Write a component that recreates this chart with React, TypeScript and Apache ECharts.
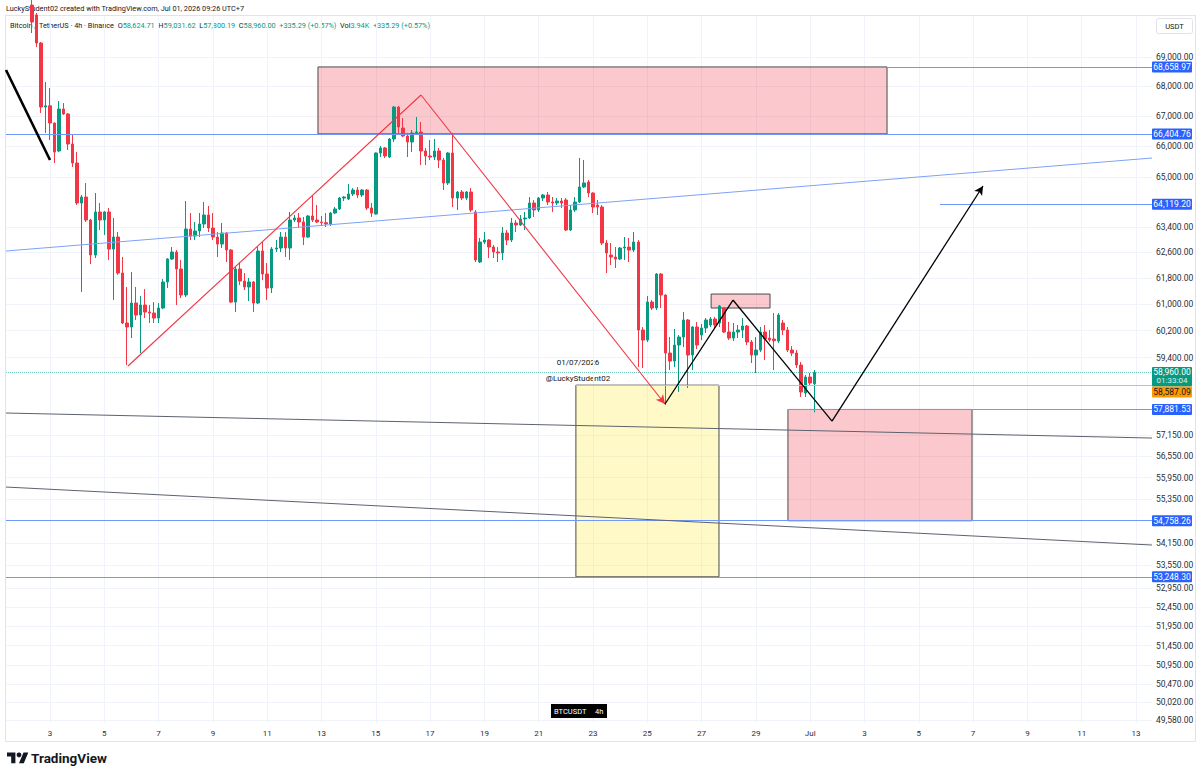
import { useEffect, useRef } from "react";
import * as echarts from "echarts";

// ---- 4h BTCUSDT bars, oldest first: [open, high, low, close] ----
const BARS_PER_DAY = 6;
const FIRST_BAR_DAY = 2; // 2 June
const FIRST_BAR_SLOT = 2; // third 4h bar of that day

const ohlc: number[][] = [
  [70810, 70990, 69830, 70215], [70460, 70530, 69345, 69482], [69482, 69520, 67100, 67300],
  [67300, 68145, 66435, 67340], [67340, 67942, 66203, 66766], [66766, 66780, 65448, 65808],
  [65841, 67502, 65800, 67234], [67234, 67435, 67034, 67067], [67067, 67100, 65874, 66071],
  [66071, 66368, 65318, 65448], [65448, 65808, 64092, 64156], [64156, 64412, 61372, 64348],
  [64348, 64800, 63552, 63615], [63615, 63650, 62235, 62514], [62514, 64477, 62421, 63870],
  [63870, 64156, 63298, 63615], [63615, 63900, 63140, 63870], [63870, 63997, 62359, 62700],
  [62700, 63679, 61127, 63077], [63077, 63235, 61900, 61955], [61955, 62452, 60400, 60431],
  [60431, 61525, 59178, 60310], [60310, 61986, 59980, 61035], [61035, 61525, 60521, 60672],
  [60672, 61249, 59533, 60975], [60975, 61462, 60581, 60762], [60762, 60975, 60431, 60732],
  [60732, 61066, 60431, 60581], [60581, 61035, 60431, 60884], [60884, 61771, 60850, 61679],
  [61679, 62420, 61494, 62390], [62390, 62764, 62359, 62608], [62608, 62670, 60975, 62079],
  [62079, 62359, 61188, 61280], [61280, 64220, 61219, 63330], [63330, 63837, 62983, 63109],
  [63109, 63552, 62983, 63267], [63267, 63837, 63077, 63488], [63488, 64188, 63361, 63774],
  [63774, 64060, 63235, 63361], [63361, 63837, 62983, 63077], [63077, 63235, 62452, 62857],
  [62857, 63520, 62733, 63204], [63204, 63235, 62297, 62670], [62670, 62700, 61035, 61066],
  [61066, 62141, 60762, 62079], [62079, 62297, 61586, 61709], [61709, 61955, 61433, 61525],
  [61525, 61802, 61096, 61679], [61679, 61709, 60762, 61035], [61035, 62764, 61000, 62639],
  [62639, 62920, 61740, 61925], [61925, 62266, 61127, 61494], [61494, 62764, 61341, 62702],
  [62702, 62983, 62608, 62733], [62733, 63235, 62608, 63077], [63077, 63235, 62452, 62733],
  [62733, 63870, 62359, 63615], [63615, 63774, 63552, 63679], [63679, 63837, 63361, 63552],
  [63552, 63710, 62826, 63077], [63077, 63774, 63046, 63742], [63742, 64380, 63552, 63615],
  [63615, 64092, 63520, 63552], [63552, 63742, 63425, 63530], [63530, 63837, 63393, 63488],
  [63488, 63870, 63425, 63837], [63837, 64028, 63800, 63965], [63965, 64348, 63933, 64316],
  [64316, 64380, 64220, 64348], [64284, 64768, 64252, 64445], [64445, 64637, 64380, 64573],
  [64573, 64670, 64316, 64412], [64412, 64600, 64348, 64573], [64573, 64600, 63933, 63997],
  [63997, 64156, 63710, 63837], [63805, 65790, 63790, 65776], [65776, 66005, 65645, 65940],
  [65940, 65972, 65612, 65677], [65645, 66270, 65612, 66236], [66236, 67330, 66136, 67300],
  [67300, 67330, 66435, 66633], [66600, 66932, 66302, 66335], [66335, 66435, 65645, 66137],
  [66137, 66534, 65808, 66435], [66435, 66966, 66368, 66468], [66468, 66800, 65383, 65841],
  [65841, 65940, 65383, 65677], [65677, 66203, 65546, 65645], [65645, 66236, 65546, 65841],
  [65841, 65940, 65285, 65546], [65546, 65612, 64573, 64800], [64800, 65808, 64735, 65776],
  [65776, 66435, 64028, 64316], [64316, 64540, 63933, 64509], [64509, 64573, 64252, 64316],
  [64316, 64540, 64252, 64509], [64509, 64637, 63870, 63933], [63870, 63933, 62297, 62359],
  [62297, 63046, 62266, 62920], [62920, 63235, 62857, 62983], [62983, 63010, 62421, 62764],
  [62764, 62826, 62421, 62608], [62608, 62764, 62297, 62580], [62580, 63393, 62359, 63204],
  [63204, 63298, 62826, 62983], [62983, 63679, 62920, 63520], [63520, 63615, 63235, 63456],
  [63456, 63774, 63425, 63647], [63647, 63870, 63298, 63679], [63679, 64348, 63647, 64156],
  [64156, 64252, 63710, 63933], [63933, 64348, 63870, 64316], [64316, 64445, 64220, 64412],
  [64412, 64509, 64092, 64188], [64188, 64348, 63870, 64156], [64156, 64316, 64092, 64220],
  [64220, 64316, 63997, 64156], [64252, 64316, 63267, 63298], [63298, 64092, 63267, 63933],
  [63933, 64348, 63870, 64188], [64188, 65612, 64156, 64670], [64670, 65546, 64637, 64800],
  [64832, 64896, 64348, 64477], [64477, 64500, 63837, 64028], [64092, 64252, 63774, 64028],
  [64028, 64092, 62826, 62889], [62889, 62983, 61955, 62577], [62514, 62889, 62204, 62452],
  [62452, 62764, 62110, 62390], [62390, 62764, 62359, 62733], [62733, 63077, 62359, 62764],
  [62764, 63046, 62297, 62670], [62670, 63235, 62608, 62920], [62920, 62983, 59120, 60220],
  [60220, 60310, 59090, 59920], [59920, 61249, 59860, 61066], [61066, 61127, 60823, 60884],
  [60884, 61955, 60823, 61925], [61925, 61955, 60884, 61280], [61280, 61300, 58010, 59533],
  [59533, 60010, 59031, 59296], [59296, 60250, 59120, 59771], [59771, 60070, 58387, 60010],
  [60010, 60762, 59711, 60521], [60521, 60550, 58503, 59474], [59474, 60340, 59031, 60310],
  [60310, 60461, 59650, 59771], [60070, 60400, 59920, 60280], [60280, 60581, 60130, 60521],
  [60370, 60611, 60310, 60551], [60551, 60611, 60250, 60370], [60431, 60975, 60310, 60945],
  [60884, 60900, 60130, 60160], [60160, 60461, 59920, 59980], [59980, 60431, 59890, 60160],
  [60160, 60370, 59980, 60220], [60220, 60581, 59980, 60340], [60340, 60370, 59771, 59860],
  [59860, 59920, 59237, 59474], [59474, 60010, 58943, 59622], [59622, 60310, 59562, 60160],
  [60160, 60370, 59326, 59950], [59980, 60220, 59860, 59920], [59950, 60732, 59031, 59900],
  [59890, 60732, 59830, 60672], [60431, 60521, 60070, 60220], [60220, 60310, 59562, 59622],
  [59622, 59740, 59445, 59533], [59533, 59622, 59090, 59178], [59178, 59267, 58242, 58387],
  [58358, 58884, 58242, 58825], [58825, 58943, 58587, 58650], [58624.71, 59031.62, 57800.19, 58960.0],
];

// ---- axes ----
const dateTicks = [3, 5, 7, 9, 11, 13, 15, 17, 19, 21, 23, 25, 27, 29, 31, 33, 35, 37, 39, 41, 43];
const priceTicks = [
  69000, 68000, 67000, 66000, 65000, 63400, 62600, 61800, 61000, 60200, 59400, 57150, 56550,
  55950, 55350, 54150, 53550, 52950, 52450, 51950, 51450, 50950, 50470, 50020, 49580,
];
const X_MIN = 1.3794;
const X_MAX = 43.589;
const Y_MIN = 49506;
const Y_MAX = 70425;

// ---- drawings (x in June days, y in USDT) ----
// zones: [fromDay, toDay, upperPrice, lowerPrice]
const pinkZones = [
  [12.87, 33.83, 68658.97, 66404.76],
  [27.35, 29.52, 61310, 60884],
  [30.18, 36.96, 57881.53, 54758.26],
];
const yellowZone = [22.37, 27.64, 58587.09, 53248.3];

// horizontal levels: [price, fromDay]
const blueLevels = [
  [68658.97, 33.83],
  [66404.76, X_MIN],
  [64119.2, 35.78],
  [57881.53, 30.18],
  [54758.26, X_MIN],
  [53248.3, X_MIN],
];
const lastPrice = 58960.0;
const orangeLevel = [58587.09, 22.37];

const redPath = [[5.873, 59149], [16.665, 67705], [25.652, 58039]];
const blackPath = [[25.652, 58039], [28.156, 61127], [31.803, 57548], [37.365, 64702]];
const blackStroke = [[1.38, 68554], [3.0, 65546]];
const blueTrend = [[X_MIN, 62639], [X_MAX, 65611]];
const greyTrends = [
  [[X_MIN, 57779], [X_MAX, 57063]],
  [[X_MIN, 55686], [X_MAX, 54099]],
];

const priceTags = [68658.97, 66404.76, 64119.2, 57881.53, 54758.26, 53248.3];

const UP = "#089981";
const DOWN = "#f23645";
const TAG_BLUE = "#2962ff";
const FONT = "Roboto, 'Liberation Sans', sans-serif";

function fmt(v: number): string {
  const [i, d] = v.toFixed(2).split(".");
  return i.replace(/\B(?=(\d{3})+(?!\d))/g, ",") + "." + d;
}

function segments(points: number[][], lineStyle: any, arrow: boolean) {
  const out: any[] = [];
  for (let k = 0; k < points.length - 1; k++) {
    const last = arrow && k === points.length - 2;
    out.push([
      { coord: points[k], symbol: "none", lineStyle },
      {
        coord: points[k + 1],
        symbol: last ? "arrow" : "none",
        symbolSize: last ? [7, 9] : 0,
      },
    ]);
  }
  return out;
}

export default function App() {
  const ref = useRef<HTMLDivElement>(null);

  useEffect(() => {
    if (!ref.current) return;
    const chart = echarts.init(ref.current, undefined, { renderer: "svg" });

    const candleData = ohlc.map(([o, h, l, c], i) => [
      FIRST_BAR_DAY + (FIRST_BAR_SLOT + i) / BARS_PER_DAY,
      o,
      c,
      l,
      h,
    ]);

    const blueStyle = { color: "#6e98fa", width: 1, type: "solid" };
    const markLines: any[] = [
      ...blueLevels.map(([p, from]) => [
        { coord: [from, p], symbol: "none", lineStyle: blueStyle },
        { coord: [X_MAX, p], symbol: "none" },
      ]),
      [
        { coord: [X_MIN, lastPrice], symbol: "none", lineStyle: { color: UP, width: 1, type: "dotted", opacity: 0.6 } },
        { coord: [X_MAX, lastPrice], symbol: "none" },
      ],
      [
        { coord: [orangeLevel[1], orangeLevel[0]], symbol: "none", lineStyle: { color: "#ffb74d", width: 1, type: "solid" } },
        { coord: [X_MAX, orangeLevel[0]], symbol: "none" },
      ],
      ...segments(blueTrend, { color: "#7ea2f7", width: 1, type: "solid" }, false),
      ...greyTrends.flatMap((t) => segments(t, { color: "#5d6270", width: 1, type: "solid" }, false)),
      ...segments(blackStroke, { color: "#000000", width: 2.6, type: "solid" }, false),
      ...segments(redPath, { color: "#f23645", width: 1.1, type: "solid" }, true),
      ...segments(blackPath, { color: "#000000", width: 1.3, type: "solid" }, true),
    ];

    const zoneStyle = (fill: string) => ({ color: fill, borderColor: "#4a4a4a", borderWidth: 1 });
    const markAreas: any[] = [
      [
        { coord: [yellowZone[0], yellowZone[2]], itemStyle: zoneStyle("rgba(255,235,59,0.28)") },
        { coord: [yellowZone[1], yellowZone[3]] },
      ],
      ...pinkZones.map((z) => [
        { coord: [z[0], z[2]], itemStyle: zoneStyle("rgba(242,54,69,0.27)") },
        { coord: [z[1], z[3]] },
      ]),
    ];

    const baseGraphic: any[] = [
      {
        type: "rect",
        silent: true,
        z: -1,
        shape: { x: 5.5, y: 15.5, width: 1190, height: 726 },
        style: { fill: "none", stroke: "#e0e3eb", lineWidth: 1 },
      },
      {
        type: "text",
        x: 6,
        y: 8,
        style: {
          text: "LuckyStudent02 created with TradingView.com, Jul 01, 2026 09:26 UTC+7",
          fontSize: 7.3,
          fontFamily: FONT,
          fill: "#131722",
          verticalAlign: "middle",
        },
      },
      {
        type: "text",
        x: 10,
        y: 25,
        style: {
          text:
            "{n|Bitcoin / TetherUS · 4h · Binance}  {n|O}{g|58,624.71}  {n|H}{g|59,031.62}  {n|L}{g|57,800.19}  {n|C}{g|58,960.00}  {g|+335.29 (+0.57%)}  {n|Vol}{g|3.94K}  {g|+335.29 (+0.57%)}",
          fontSize: 7.3,
          fontFamily: FONT,
          verticalAlign: "middle",
          rich: {
            n: { fill: "#131722", fontSize: 7.3, fontFamily: FONT },
            g: { fill: UP, fontSize: 7.3, fontFamily: FONT },
          },
        },
      },
      {
        type: "rect",
        shape: { x: 1156.5, y: 18.5, width: 36, height: 15, r: 2 },
        style: { fill: "#ffffff", stroke: "#e0e3eb", lineWidth: 1 },
      },
      {
        type: "text",
        x: 1174.5,
        y: 26,
        style: { text: "USDT", fontSize: 7.5, fontFamily: FONT, fill: "#131722", align: "center", verticalAlign: "middle" },
      },
      {
        type: "text",
        x: 578,
        y: 362,
        style: { text: "01/07/2026", fontSize: 8, fontFamily: FONT, fill: "#131722", align: "center", verticalAlign: "middle" },
      },
      {
        type: "text",
        x: 578,
        y: 378,
        style: { text: "@LuckyStudent02", fontSize: 8, fontFamily: FONT, fill: "#131722", align: "center", verticalAlign: "middle" },
      },
      {
        type: "rect",
        z: 20,
        shape: { x: 551, y: 704, width: 56, height: 14 },
        style: { fill: "#000000" },
      },
      {
        type: "text",
        z: 21,
        x: 554,
        y: 711,
        style: { text: "BTCUSDT", fontSize: 7.5, fontFamily: FONT, fill: "#ffffff", verticalAlign: "middle" },
      },
      {
        type: "text",
        z: 21,
        x: 595,
        y: 711,
        style: { text: "4h", fontSize: 7.5, fontFamily: FONT, fill: "#ffffff", verticalAlign: "middle" },
      },
      {
        type: "tvmark",
        x: 7,
        y: 750,
        scaleX: 0.6,
        scaleY: 0.6,
        style: { fill: "#131722" },
      },
      {
        type: "circle",
        shape: { cx: 7 + 20 * 0.6, cy: 750 + 8 * 0.6, r: 4 * 0.6 },
        style: { fill: "#131722" },
      },
      {
        type: "text",
        x: 31,
        y: 758,
        style: {
          text: "TradingView",
          fontSize: 13.5,
          fontWeight: "bold",
          fontFamily: FONT,
          fill: "#131722",
          verticalAlign: "middle",
        },
      },
    ];

    chart.setOption({
      animation: false,
      backgroundColor: "#ffffff",
      grid: { left: 6, right: 48, top: 16, bottom: 54, containLabel: false },
      xAxis: {
        type: "value",
        min: X_MIN,
        max: X_MAX,
        axisLine: { show: false },
        axisTick: { show: false, customValues: dateTicks },
        splitLine: { show: true, lineStyle: { color: "#f0f3fa", width: 1 } },
        axisLabel: {
          customValues: dateTicks,
          color: "#2a2e39",
          fontSize: 8,
          fontFamily: FONT,
          margin: 6,
          formatter: (v: number) => (v === 31 ? "Jul" : v > 31 ? String(v - 30) : String(v)),
        },
      },
      yAxis: {
        type: "log",
        logBase: 10,
        position: "right",
        min: Y_MIN,
        max: Y_MAX,
        axisLine: { show: false },
        axisTick: { show: false, customValues: priceTicks },
        splitLine: { show: true, lineStyle: { color: "#f0f3fa", width: 1 } },
        axisLabel: {
          customValues: priceTicks,
          color: "#2a2e39",
          fontSize: 8.5,
          fontFamily: FONT,
          margin: 4,
          formatter: (v: number) => fmt(v),
        },
      },
      series: [
        {
          type: "candlestick",
          data: candleData,
          encode: { x: 0, y: [1, 2, 3, 4] },
          barWidth: 3,
          clip: true,
          itemStyle: { color: UP, color0: DOWN, borderColor: UP, borderColor0: DOWN, borderWidth: 1 },
          markArea: { silent: true, z: 1, label: { show: false }, data: markAreas },
          markLine: {
            silent: true,
            z: 5,
            animation: false,
            label: { show: false },
            emphasis: { disabled: true },
            data: markLines,
          },
        },
      ],
      graphic: baseGraphic,
    });

    // price tags on the right scale, placed through the y axis
    const yOf = (p: number) => chart.convertToPixel({ yAxisIndex: 0 }, p) as number;
    const tagX = 1152;
    const tagW = 40;
    const tags: any[] = [];
    priceTags.forEach((price) => {
      const y = yOf(price);
      tags.push({
        type: "rect",
        z: 10,
        shape: { x: tagX, y: y - 5.5, width: tagW, height: 11, r: 1 },
        style: { fill: TAG_BLUE },
      });
      tags.push({
        type: "text",
        z: 11,
        x: tagX + tagW / 2,
        y: y,
        style: { text: fmt(price), fontSize: 8.5, fontFamily: FONT, fill: "#ffffff", align: "center", verticalAlign: "middle" },
      });
    });
    const yLast = yOf(lastPrice);
    tags.push({
      type: "rect",
      z: 10,
      shape: { x: tagX, y: yLast - 5.5, width: tagW, height: 19.5, r: 1 },
      style: { fill: UP },
    });
    tags.push({
      type: "text",
      z: 11,
      x: tagX + tagW / 2,
      y: yLast,
      style: { text: fmt(lastPrice), fontSize: 8.5, fontFamily: FONT, fill: "#ffffff", align: "center", verticalAlign: "middle" },
    });
    tags.push({
      type: "text",
      z: 11,
      x: tagX + tagW / 2,
      y: yLast + 8.5,
      style: { text: "01:33:04", fontSize: 8, fontFamily: FONT, fill: "#d5f2ec", align: "center", verticalAlign: "middle" },
    });
    const orangeTop = yLast + 14;
    tags.push({
      type: "rect",
      z: 10,
      shape: { x: tagX, y: orangeTop, width: tagW, height: 11, r: 1 },
      style: { fill: "#ff9800" },
    });
    tags.push({
      type: "text",
      z: 11,
      x: tagX + tagW / 2,
      y: orangeTop + 5.5,
      style: { text: fmt(orangeLevel[0]), fontSize: 8.5, fontFamily: FONT, fill: "#131722", align: "center", verticalAlign: "middle" },
    });

    chart.setOption({ graphic: [...baseGraphic, ...tags] });

    return () => chart.dispose();
  }, []);

  return (
    <div
      ref={ref}
      style={{ position: "fixed", left: 0, top: 0, width: 1200, height: 777, background: "#ffffff" }}
    />
  );
}

// TradingView mark used in the footer
echarts.graphic.registerShape(
  "tvmark",
  echarts.graphic.extendPath("M14 22H7V11H0V4h14v18zM28 22h-8l7.5-18h8L28 22z", {}) as any
);
